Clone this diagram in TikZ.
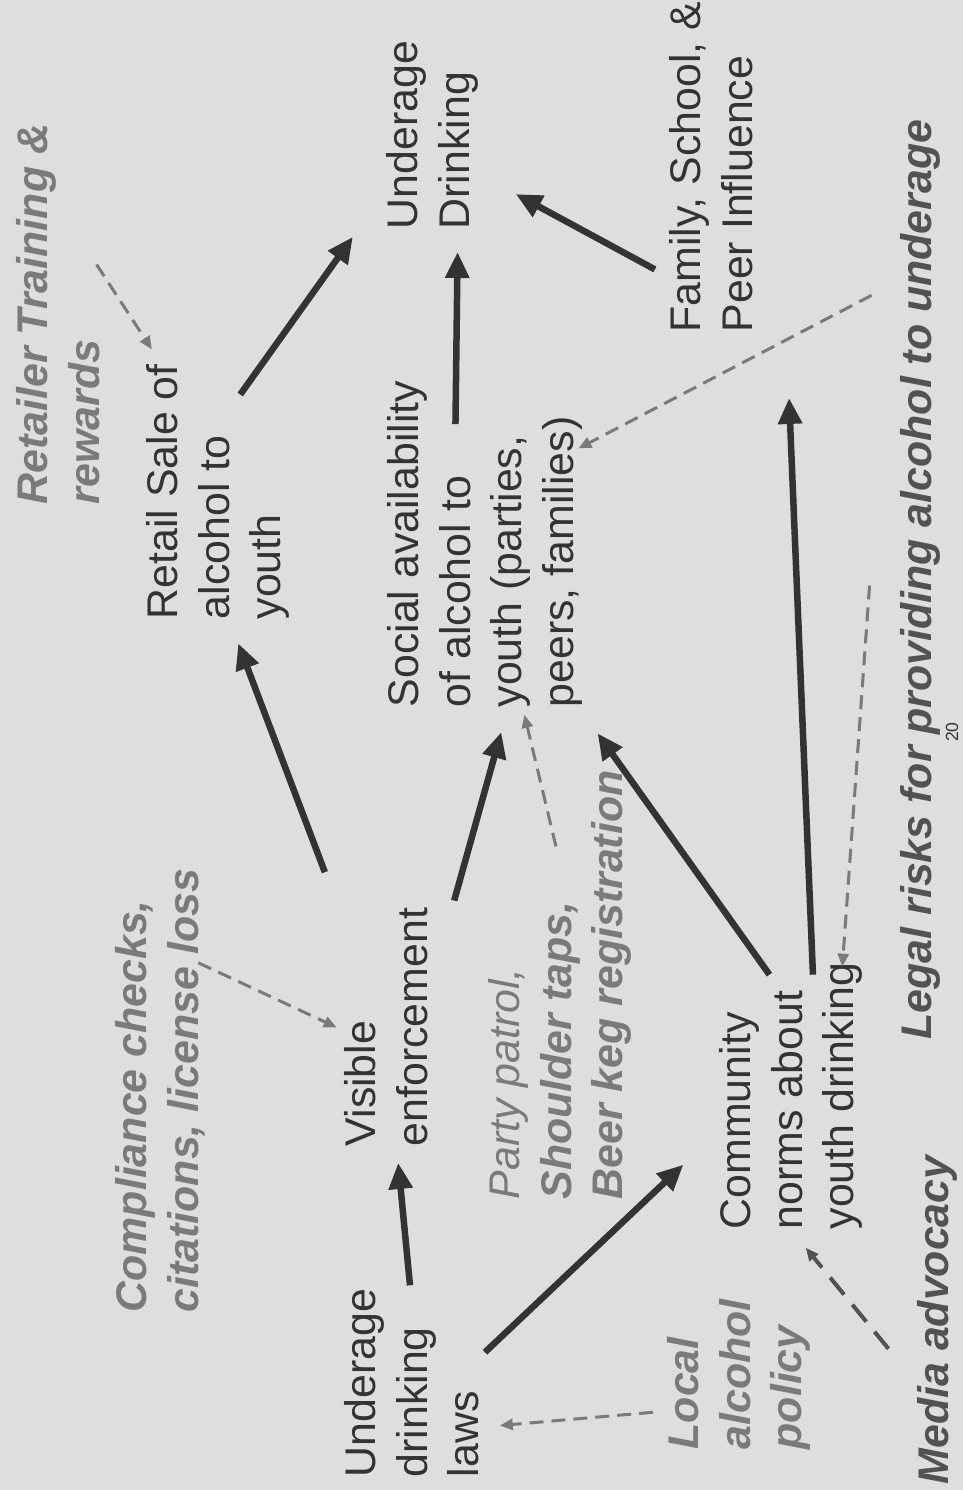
\documentclass[tikz,border=0pt]{standalone}
\usepackage{fontspec}
\setmainfont{Liberation Sans}
\usetikzlibrary{arrows.meta}

\definecolor{paper}{gray}{0.87}
\definecolor{ink}{gray}{0.2}
\definecolor{leverink}{gray}{0.48}
\definecolor{darklever}{gray}{0.32}

\begin{document}
\begin{tikzpicture}[x=0.1mm, y=-0.1mm,
    factor/.style={rotate=90, anchor=north west, inner sep=0pt, align=left,
      text=ink, font=\fontsize{12.2}{14.65}\selectfont},
    strategy/.style={factor, text=leverink,
      font=\fontsize{12.2}{14.65}\selectfont\bfseries\itshape},
    cause/.style={draw=ink, line width=0.65mm,
      -{Triangle[length=2.6mm, width=2.3mm]}},
    lever/.style={draw=leverink, line width=0.3mm,
      dash pattern=on 1.4mm off 0.8mm, -{Triangle[length=1.3mm, width=1.1mm]}}]

  % Paper
  \path[use as bounding box, fill=paper] (0,0) rectangle (963,1490);

  % Factors (the page is turned a quarter round)
  \node[factor] (udrink) at (386,230) {Underage\\Drinking};
  \node[factor] (retail) at (146,620) {Retail Sale of\\alcohol to\\youth};
  \node[factor] (social) at (387,708) {Social availability\\of alcohol to\\youth (parties,\\peers, families)};
  \node[factor] (family) at (669,333) {Family, School, \&\\Peer Influence};
  \node[factor] (enf) at (344,1147) {Visible\\enforcement};
  \node[factor] (laws) at (344,1478) {Underage\\drinking\\laws};
  \node[factor] (comm) at (719,1230) {Community\\norms about\\youth drinking};

  % Strategies
  \node[strategy] (retailer) at (16,505) {Retailer Training \&\\rewards};
  \node[strategy] (comply) at (115,1313) {Compliance checks,\\citations, license loss};
  \node[strategy] (party) at (488,1200) {{\mdseries Party patrol,}\\Shoulder taps,\\Beer keg registration};
  \node[strategy] (local) at (667,1450) {Local\\alcohol\\policy};
  \node[strategy, text=darklever] (legal) at (900,1040) {Legal risks for providing alcohol to underage};
  \node[strategy, text=darklever] (media) at (917,1485) {Media advocacy};
  \node[rotate=90, inner sep=0pt, text=ink, font=\fontsize{5}{6}\selectfont] (pagenum) at (952,732) {20};

  % Causal links
  \draw[cause, shorten <=0.3mm, shorten >=1.6mm] (laws.1) -- (enf.185);
  \draw[cause, shorten <=0.7mm, shorten >=4.9mm] (laws.-69) -- (comm.116);
  \draw[cause, shorten <=5.4mm, shorten >=2.5mm] (enf.22) -- (retail.185);
  \draw[cause, shorten <=9.6mm, shorten >=2.5mm] (enf.-51) -- (social.188);
  \draw[cause, shorten <=-3.8mm, shorten >=5.7mm] (retail.-19) -- (udrink.140);
  \draw[cause, shorten <=-4.4mm, shorten >=2.2mm] (social.10) -- (udrink.195);
  \draw[cause, shorten <=1.6mm, shorten >=4.2mm] (family.159) -- (udrink.230);
  \draw[cause, shorten <=-1.6mm, shorten >=3.1mm] (comm.13) -- (social.210);
  \draw[cause, shorten <=-1.3mm, shorten >=6.5mm] (comm.-9) -- ([xshift=3.3mm]family.south west);

  % Strategy links
  \draw[lever, shorten <=-0.7mm, shorten >=1.7mm] (retailer.-44) -- (retail.24);
  \draw[lever, shorten <=-0.8mm, shorten >=0.8mm] (comply.-20) -- (enf.95);
  \draw[lever, shorten <=-7.9mm, shorten >=0.7mm] (party.6) -- (social.193);
  \draw[lever, shorten <=3.2mm, shorten >=-0.5mm] ([yshift=29.9mm]legal.north) -- (social.-45);
  \draw[lever, shorten <=0.6mm, shorten >=-0.5mm] ([xshift=-3mm]legal.north) -- (comm.-21);
  \draw[lever, shorten <=1.4mm, shorten >=2mm] (local.117) -- (laws.-123);
  \draw[lever, draw=darklever, line width=0.4mm, dash pattern=on 2.2mm off 1.3mm,
    shorten <=4.5mm, shorten >=2.3mm] (media.162) -- (comm.180);
\end{tikzpicture}
\end{document}
